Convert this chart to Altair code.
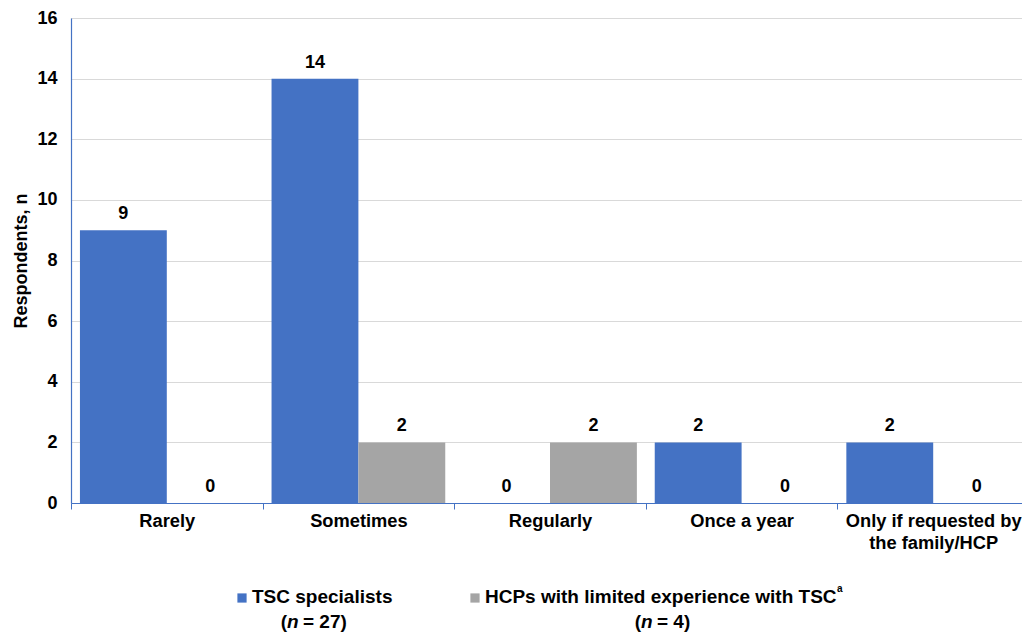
import altair as alt
import pandas as pd

categories = ["Rarely", "Sometimes", "Regularly", "Once a year",
              "Only if requested by the family/HCP"]
series_names = ["TSC specialists", "HCPs with limited experience with TSC"]
tsc_values = [9, 14, 0, 2, 2]
hcp_values = [0, 2, 2, 0, 0]
colors = ["#4472C4", "#A5A5A5"]
y_ticks = [0, 2, 4, 6, 8, 10, 12, 14, 16]

rows = []
for c, a, b in zip(categories, tsc_values, hcp_values):
    rows.append({"category": c, "series": series_names[0], "value": a})
    rows.append({"category": c, "series": series_names[1], "value": b})
df = pd.DataFrame(rows)

FONT = "Liberation Sans"
AXIS_BLUE = "#4472C4"

x_enc = alt.X(
    "category:N", sort=categories,
    scale=alt.Scale(paddingInner=0, paddingOuter=0, range=[0, 958]),
    axis=alt.Axis(
        title=None, labelAngle=0, ticks=True, tickBand="extent", tickSize=6,
        tickColor=AXIS_BLUE, domainColor=AXIS_BLUE, domainWidth=1.2, grid=False,
        labelFont=FONT, labelFontSize=18.3, labelFontWeight="bold", labelColor="#000000",
        labelPadding=3, labelLineHeight=22, labelLimit=400,
        labelExpr="datum.value == 'Only if requested by the family/HCP' ? ['Only if requested by', 'the family/HCP'] : datum.value",
    ),
)
xoff = alt.XOffset("series:N", sort=series_names,
                   scale=alt.Scale(paddingInner=0, paddingOuter=0.103))
y_enc = alt.Y(
    "value:Q", scale=alt.Scale(domain=[0, 16], nice=False),
    axis=alt.Axis(
        title="Respondents, n", values=y_ticks, ticks=False,
        domainColor=AXIS_BLUE, domainWidth=1.2, gridColor="#D9D9D9", grid=True,
        labelFont=FONT, labelFontSize=18, labelFontWeight="bold", labelColor="#000000",
        labelPadding=14, titleFont=FONT, titleFontSize=18, titleFontWeight="bold",
        titleColor="#000000", titlePadding=6,
    ),
)
color_enc = alt.Color("series:N", sort=series_names,
                      scale=alt.Scale(domain=series_names, range=colors), legend=None)

base = alt.Chart(df)
bars = base.mark_bar().encode(
    x=x_enc, xOffset=xoff, y=y_enc, color=color_enc)
labels = base.mark_text(font=FONT, fontSize=18, fontWeight="bold", color="#000000",
                        baseline="alphabetic", dy=-11).encode(
    x=alt.X("category:N", sort=categories), xOffset=xoff, y="value:Q",
    text="value:Q")

one = alt.Data(values=[{"k": 1}])


def txt(s, x, y, align="left", style="normal", size=19, weight="bold"):
    return alt.Chart(one).mark_text(
        text=s, font=FONT, fontSize=size, fontWeight=weight, fontStyle=style,
        align=align, baseline="alphabetic", color="#000000",
    ).encode(x=alt.value(x), y=alt.value(y))


def sq(col, x, y):
    return alt.Chart(one).mark_point(shape="square", filled=True, size=85,
                                     color=col, opacity=1).encode(
        x=alt.value(x), y=alt.value(y))


L1 = 585
L2 = 610
legend_layers = [
    sq(colors[0], 171, L1 - 5),
    txt(series_names[0], 181, L1),
    txt("(", 216, L2, align="right"),
    txt("n", 216, L2, style="italic"),
    txt("= 27)", 232, L2),
    sq(colors[1], 404, L1 - 5),
    txt(series_names[1], 414, L1),
    txt("a", 766, L1 - 11, size=10),
    txt("(", 570, L2, align="right"),
    txt("n", 570, L2, style="italic"),
    txt("= 4)", 586, L2),
]

chart = alt.layer(bars, labels, *legend_layers).properties(
    width=951, height=485,
    autosize=alt.AutoSizeParams(type="none"),
    padding={"left": 63, "top": 10, "right": 0, "bottom": 130},
).configure_view(stroke=None).configure(background="#ffffff")

chart.save("out.html", embed_options={"renderer": "svg", "actions": False})
